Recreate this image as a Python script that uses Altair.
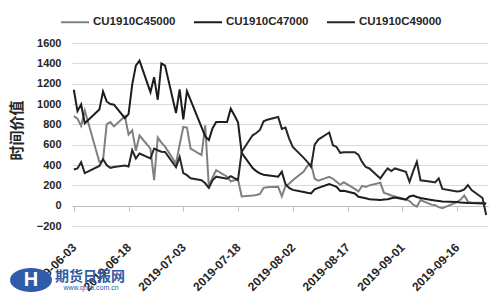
import altair as alt
import pandas as pd

# trading days (CU1910 options, 2019-06-03 .. 2019-09-24)
dates = (
    ["2019-06-03", "2019-06-04", "2019-06-05", "2019-06-06",
     "2019-06-10", "2019-06-11", "2019-06-12", "2019-06-13", "2019-06-14",
     "2019-06-17", "2019-06-18", "2019-06-19", "2019-06-20", "2019-06-21",
     "2019-06-24", "2019-06-25", "2019-06-26", "2019-06-27", "2019-06-28"]
    + ["2019-07-01", "2019-07-02", "2019-07-03", "2019-07-04", "2019-07-05",
       "2019-07-08", "2019-07-09", "2019-07-10", "2019-07-11", "2019-07-12",
       "2019-07-15", "2019-07-16", "2019-07-17", "2019-07-18", "2019-07-19",
       "2019-07-22", "2019-07-23", "2019-07-24", "2019-07-25", "2019-07-26",
       "2019-07-29", "2019-07-30", "2019-07-31"]
    + ["2019-08-01", "2019-08-02",
       "2019-08-05", "2019-08-06", "2019-08-07", "2019-08-08", "2019-08-09",
       "2019-08-12", "2019-08-13", "2019-08-14", "2019-08-15", "2019-08-16",
       "2019-08-19", "2019-08-20", "2019-08-21", "2019-08-22", "2019-08-23",
       "2019-08-26", "2019-08-27", "2019-08-28", "2019-08-29", "2019-08-30"]
    + ["2019-09-02", "2019-09-03", "2019-09-04", "2019-09-05", "2019-09-06",
       "2019-09-09", "2019-09-10", "2019-09-11", "2019-09-12",
       "2019-09-16", "2019-09-17", "2019-09-18", "2019-09-19", "2019-09-20",
       "2019-09-23", "2019-09-24"]
)

c45000 = (
    [880, 856, 785, 937, 430, 445, 800, 823, 780, 880, 700, 740, 540, 690,
     560, 252, 670, 620, 580]
    + [415, 600, 774, 768, 562, 497, 790, 186, 275, 350, 285, 240, 250, 255,
       90, 100, 105, 115, 175, 180, 185, 92, 195]
    + [215, 250, 335, 390, 415, 265, 245, 284, 265, 235, 205, 230, 165, 140,
       195, 185, 200, 225, 125, 115, 100, 90]
    + [62, 45, 10, -10, 56, 10, 5, -15, -25, 35, 60, 100, 40, 28, 28, 25]
)

c47000 = (
    [1140, 930, 995, 810, 945, 1123, 1025, 1000, 993, 860, 900, 1190, 1378,
     1427, 1117, 1264, 1042, 1400, 1378]
    + [911, 1143, 849, 1126, 1037, 773, 684, 645, 760, 823, 823, 954, 890,
       820, 520, 370, 340, 317, 305, 300, 285, 333, 210]
    + [175, 155, 135, 127, 121, 160, 175, 212, 200, 186, 145, 147, 120, 88,
       80, 72, 63, 56, 60, 63, 72, 80]
    + [60, 90, 100, 85, 75, 56, 50, 45, 40, 35, 30, 28, 26, 25, 22, 18]
)

c49000 = (
    [356, 366, 428, 320, 390, 457, 399, 372, 380, 395, 385, 545, 464, 513,
     464, 562, 545, 530, 529]
    + [380, 480, 320, 300, 270, 250, 220, 175, 250, 285, 265, 290, 270, 255,
       530, 692, 715, 745, 830, 845, 872, 755, 768]
    + [660, 578, 470, 430, 382, 600, 650, 720, 595, 578, 520, 525, 525, 500,
       430, 380, 366, 268, 320, 366, 340, 366]
    + [333, 235, 340, 431, 250, 235, 229, 268, 165, 140, 145, 160, 203, 154,
       75, -91]
)

series_names = ["CU1910C45000", "CU1910C47000", "CU1910C49000"]
series_colors = ["#808080", "#1c1c1c", "#262626"]
tick_dates = ["2019-06-03", "2019-06-18", "2019-07-03", "2019-07-18",
              "2019-08-02", "2019-08-17", "2019-09-01", "2019-09-16"]
y_ticks = [-200, 0, 200, 400, 600, 800, 1000, 1200, 1400, 1600]
y_title = "时间价值"
wm_name = "期货日报网"
wm_url = "www.qhrb.com.cn"


def ms(s):
    return int(pd.Timestamp(s, tz="UTC").value // 10**6)


rows = []
for name, vals in zip(series_names, [c45000, c47000, c49000]):
    for d, v in zip(dates, vals):
        rows.append({"date": d, "value": v, "series": name})
df = pd.DataFrame(rows)

x_domain = [ms("2019-06-02 12:00"), ms("2019-09-24 12:00")]
tick_ms = [ms(t) for t in tick_dates]

FONT = "Liberation Sans"
TXT = "#262626"

lines = alt.Chart(df).mark_line(strokeWidth=2).encode(
    x=alt.X("date:T",
            scale=alt.Scale(type="utc", domain=x_domain),
            axis=alt.Axis(values=tick_ms,
                          labelExpr="utcFormat(datum.value, '%Y-%m-%d')",
                          labelAngle=-45, labelAlign="right", labelBaseline="middle",
                          offset=-20, tickSize=5, tickColor="#bfbfbf",
                          domainColor="#bfbfbf", labelPadding=34,
                          labelFont=FONT, labelFontSize=12, labelFontWeight="bold",
                          labelColor=TXT, labelOverlap=False, labelBound=False,
                          labelFlush=False, grid=False, title=None)),
    y=alt.Y("value:Q",
            scale=alt.Scale(domain=[-200, 1600], nice=False, zero=False),
            axis=alt.Axis(values=y_ticks, format="d", grid=True, gridColor="#d9d9d9",
                          domain=False, ticks=False, labelPadding=11,
                          labelFont=FONT, labelFontSize=11, labelFontWeight="bold",
                          labelColor=TXT, title=y_title,
                          titleFont="Noto Sans CJK SC", titleFontSize=15,
                          titleFontWeight="bold", titleColor=TXT,
                          titleX=-56, titleY=87, titleAngle=-90,
                          titleAlign="center", titleBaseline="middle")),
    color=alt.Color("series:N",
                    scale=alt.Scale(domain=series_names, range=series_colors),
                    legend=alt.Legend(orient="none", legendX=-12, legendY=-36,
                                      direction="horizontal", title=None,
                                      symbolType="stroke", symbolSize=784,
                                      symbolStrokeWidth=2, labelOffset=3,
                                      columnPadding=14,
                                      labelFont=FONT, labelFontSize=11.5,
                                      labelFontWeight="bold", labelColor=TXT)),
    detail="series:N",
)

logo = alt.Chart(pd.DataFrame({"k": [0]})).mark_point(
    shape="M -1 0 A 1 0.57 0 1 1 1 0 A 1 0.57 0 1 1 -1 0 Z",
    filled=True, color="#2f5ca8", opacity=1, size=1764,
).encode(x=alt.value(-41), y=alt.value(237))

logo_h = alt.Chart(pd.DataFrame({"t": ["H"]})).mark_text(
    font=FONT, fontSize=20, fontWeight="bold", color="white",
).encode(x=alt.value(-41), y=alt.value(237), text="t:N")

wm1 = alt.Chart(pd.DataFrame({"t": [wm_name]})).mark_text(
    font="Noto Sans CJK SC", fontSize=14, fontWeight="bold", color="#2f5ca8",
).encode(x=alt.value(18), y=alt.value(234), text="t:N")

wm2 = alt.Chart(pd.DataFrame({"t": [wm_url]})).mark_text(
    font=FONT, fontSize=7, color="#2f5ca8",
).encode(x=alt.value(19), y=alt.value(245), text="t:N")

chart = alt.layer(lines, logo, logo_h, wm1, wm2).properties(
    width=416, height=183,
    autosize=alt.AutoSizeParams(type="none"),
    padding={"left": 72, "top": 43, "right": 12, "bottom": 77},
    background="white",
).configure_view(stroke=None)

chart.save("out.html", embed_options={"renderer": "svg", "actions": False})
